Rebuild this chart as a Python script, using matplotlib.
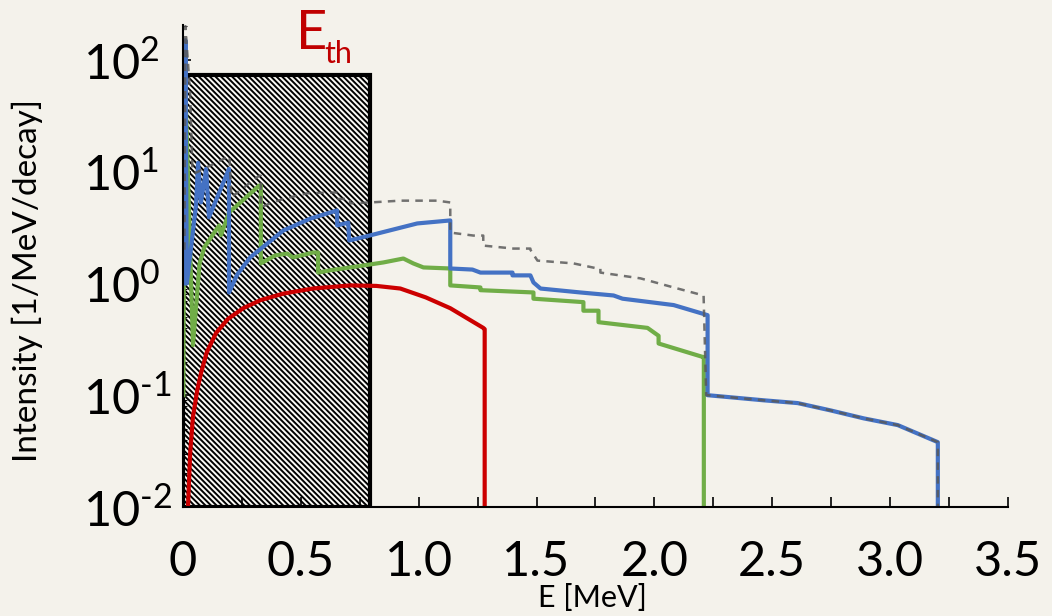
import matplotlib
matplotlib.use("Agg")
import matplotlib.pyplot as plt
from matplotlib.patches import Rectangle
from matplotlib.ticker import FixedLocator, FixedFormatter, LogLocator, NullFormatter

plt.rcParams['font.family'] = ['Lato', 'DejaVu Sans']
plt.rcParams['mathtext.fontset'] = 'custom'
plt.rcParams['mathtext.rm'] = 'Lato'
plt.rcParams['hatch.linewidth'] = 1.4

BG = '#f4f2eb'

# energy threshold region
e_th = 0.795
box_top = 73.5

# beta spectra, energy [MeV] / intensity [1/MeV/decay]
red_e = [0.021, 0.03, 0.042, 0.06, 0.076, 0.10, 0.14, 0.19, 0.255, 0.33, 0.425, 0.55,
         0.709, 0.82, 0.922, 1.03, 1.134, 1.274, 1.28, 1.28]
red_i = [0.01, 0.03, 0.064, 0.11, 0.157, 0.24, 0.36, 0.48, 0.60, 0.71, 0.81, 0.90,
         0.96, 0.95, 0.90, 0.75, 0.60, 0.40, 0.39, 0.001]

green_e = [0.001, 0.006, 0.012, 0.042, 0.07, 0.09, 0.153, 0.161, 0.195, 0.323, 0.33, 0.33,
           0.391, 0.442, 0.467, 0.552, 0.573, 0.573, 0.624, 0.709, 0.85, 0.935, 0.977, 1.02,
           1.134, 1.134, 1.262, 1.262, 1.487, 1.487, 1.699, 1.699, 1.763, 1.763, 1.971,
           2.018, 2.018, 2.205, 2.21, 2.21]
green_i = [0.1, 76, 40, 0.28, 1.5, 2.1, 3.3, 2.7, 4.3, 7.5, 7.5, 1.51,
           1.78, 1.85, 1.71, 1.89, 1.89, 1.25, 1.31, 1.39, 1.54, 1.67, 1.51, 1.39,
           1.36, 0.96, 0.92, 0.87, 0.83, 0.73, 0.68, 0.57, 0.57, 0.45, 0.40,
           0.34, 0.29, 0.22, 0.22, 0.001]

blue_e = [0.004, 0.010, 0.016, 0.055, 0.064, 0.076, 0.098, 0.110, 0.195, 0.195, 0.23,
          0.285, 0.425, 0.54, 0.654, 0.654, 0.701, 0.705, 0.794, 0.994, 1.134, 1.134,
          1.228, 1.262, 1.398, 1.398, 1.474, 1.487, 1.517, 1.686, 1.827, 1.865, 2.082,
          2.226, 2.226, 2.464, 2.608, 2.749, 2.889, 3.033, 3.203, 3.203]
blue_i = [1.0, 150, 1.0, 5.0, 12, 5.3, 10.6, 3.9, 10.6, 0.83, 1.2,
          1.71, 2.97, 3.8, 4.5, 3.3, 3.5, 2.42, 2.69, 3.44, 3.66, 1.36,
          1.33, 1.25, 1.25, 1.18, 1.18, 1.02, 0.90, 0.83, 0.78, 0.73, 0.64,
          0.52, 0.10, 0.090, 0.085, 0.073, 0.062, 0.054, 0.038, 0.001]

gray_e = [0.006, 0.010, 0.03, 0.04, 0.055, 0.197, 0.205, 0.323, 0.33, 0.33, 0.37, 0.425,
          0.527, 0.624, 0.658, 0.658, 0.709, 0.709, 0.794, 0.922, 1.079, 1.134, 1.134,
          1.232, 1.274, 1.274, 1.402, 1.474, 1.474, 1.504, 1.657, 1.759, 1.771, 1.771,
          1.941, 2.082, 2.209, 2.22, 2.226, 2.464, 2.608, 2.749, 2.889, 3.033, 3.203, 3.203]
gray_i = [2.0, 200, 50, 10, 9.8, 13.8, 5.9, 9.2, 9.2, 4.8, 5.2, 5.7,
          6.4, 6.5, 6.5, 5.7, 5.7, 5.2, 5.3, 5.5, 5.5, 5.3, 2.85,
          2.68, 2.68, 2.18, 2.05, 2.05, 2.0, 1.6, 1.51, 1.36, 1.36, 1.25,
          1.11, 0.92, 0.78, 0.10, 0.10, 0.090, 0.085, 0.073, 0.062, 0.054, 0.038, 0.001]

x_ticks = [0, 0.5, 1.0, 1.5, 2.0, 2.5, 3.0, 3.5]
x_labels = ["0", "0.5", "1.0", "1.5", "2.0", "2.5", "3.0", "3.5"]
y_ticks = [1e-2, 1e-1, 1e0, 1e1, 1e2]
y_labels = [r"$10^{\text{-}2}$", r"$10^{\text{-}1}$", r"$10^{0}$", r"$10^{1}$", r"$10^{2}$"]

fig = plt.figure(figsize=(10.52, 6.16), dpi=100, facecolor=BG)
ax = fig.add_axes([0.174, 0.177, 0.784, 0.782])
ax.set_facecolor(BG)
ax.set_yscale('log')
ax.set_xlim(0, 3.5)
ax.set_ylim(0.01, 204)

ax.add_patch(Rectangle((0, 0.01), e_th, box_top - 0.01, facecolor='#fbfaf5',
                       edgecolor='black', hatch='\\\\\\\\\\\\', lw=3, zorder=1))

ax.plot(red_e, red_i, color='#cc0000', lw=3, zorder=3)
ax.plot(green_e, green_i, color='#70ad47', lw=3, zorder=3)
ax.plot(blue_e, blue_i, color='#4472c4', lw=3, zorder=4)
ax.plot(gray_e, gray_i, color='#5a5a5a', lw=1.8, ls=(0, (3, 2.5)), alpha=0.85, zorder=5)

for s in ['top', 'right']:
    ax.spines[s].set_visible(False)
for s in ['left', 'bottom']:
    ax.spines[s].set_linewidth(1.5)
    ax.spines[s].set_zorder(6)

ax.xaxis.set_major_locator(FixedLocator(x_ticks))
ax.xaxis.set_major_formatter(FixedFormatter(x_labels))
ax.xaxis.set_minor_locator(FixedLocator([0.25, 0.75, 1.25, 1.75, 2.25, 2.75, 3.25]))
ax.tick_params(axis='x', which='both', direction='in', length=7, width=1.2,
               labelsize=35, pad=24)

ax.yaxis.set_major_locator(FixedLocator(y_ticks))
ax.yaxis.set_major_formatter(FixedFormatter(y_labels))
ax.yaxis.set_minor_locator(LogLocator(base=10, subs=range(2, 10)))
ax.yaxis.set_minor_formatter(NullFormatter())
ax.tick_params(axis='y', which='major', direction='in', length=6, width=1.2,
               labelsize=35, pad=72)
ax.tick_params(axis='y', which='minor', direction='in', length=3, width=0.8)
for lab in ax.get_yticklabels():
    lab.set_horizontalalignment('left')

fig.text(27 / 1052, 1 - 280 / 616, "Intensity [1/MeV/decay]", rotation=90,
         ha='center', va='center', fontsize=24)
fig.text(592 / 1052, 1 - 584 / 616, "E [MeV]", ha='center', va='top', fontsize=22)

fig.text(296 / 1052, 1 - 49 / 616, "E", color='#c00000', fontsize=39,
         ha='left', va='baseline')
fig.text(324 / 1052, 1 - 63 / 616, "th", color='#c00000', fontsize=22,
         ha='left', va='baseline')

fig.savefig("out.png", dpi=100, facecolor=BG)
